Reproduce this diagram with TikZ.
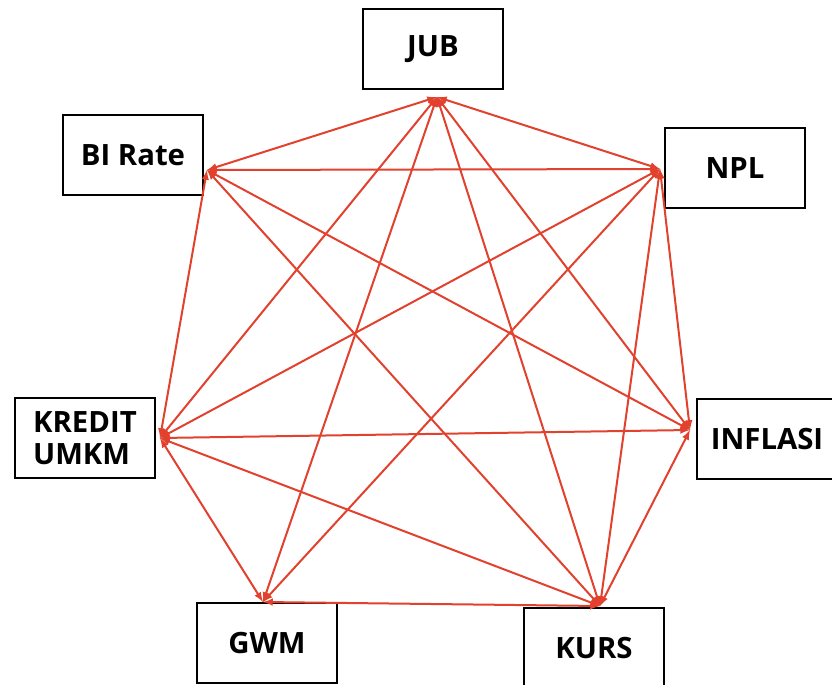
\documentclass[tikz,border=0pt]{standalone}
\usepackage{fontspec}
\setmainfont{Open Sans}
\definecolor{linkred}{RGB}{225,65,45}
\tikzset{
  box/.style={draw, line width=1.5pt, minimum width=105pt, minimum height=60pt, font=\bfseries\fontsize{22}{24}\selectfont},
  link/.style={draw=linkred, line width=1.5pt}
}
\begin{document}
\begin{tikzpicture}[x=0.75pt, y=-0.75pt]
\useasboundingbox (0,0) rectangle (832,685);
\node[box] (JUB) at (433,49) {JUB};
\node[box] (BI) at (133,155) {BI Rate};
\node[box] (NPL) at (735,168) {NPL};
\node[box, align=left] (KREDIT) at (85,438) {KREDIT\\UMKM};
\node[box] (INFLASI) at (767,439) {INFLASI};
\node[box] (GWM) at (267,643) {GWM};
\node[box] (KURS) at (594,648) {KURS};
\coordinate (pJUB) at (437,97);
\coordinate (pBI) at (207,170);
\coordinate (pNPL) at (660,169);
\coordinate (pKREDIT) at (160,438);
\coordinate (pINFLASI) at (690,430);
\coordinate (pGWM) at (263,602);
\coordinate (pKURS) at (600,606);
\draw [link, latex-latex] (pJUB) -- (pBI);
\draw [link, latex-latex] (pJUB) -- (pNPL);
\draw [link, latex-latex] (pJUB) -- (pKREDIT);
\draw [link, latex-latex] (pJUB) -- (pINFLASI);
\draw [link, latex-latex] (pJUB) -- (pGWM);
\draw [link, latex-latex] (pJUB) -- (pKURS);
\draw [link, latex-latex] (pBI) -- (pNPL);
\draw [link, latex-latex] (pBI) -- (pKREDIT);
\draw [link, latex-latex] (pBI) -- (pINFLASI);
\draw [link, latex-latex] (pBI) -- (pKURS);
\draw [link, latex-latex] (pNPL) -- (pKREDIT);
\draw [link, latex-latex] (pNPL) -- (pINFLASI);
\draw [link, latex-latex] (pNPL) -- (pGWM);
\draw [link, latex-latex] (pNPL) -- (pKURS);
\draw [link, latex-latex] (pKREDIT) -- (pINFLASI);
\draw [link, latex-latex] (pKREDIT) -- (pGWM);
\draw [link, latex-latex] (pKREDIT) -- (pKURS);
\draw [link, latex-latex] (pINFLASI) -- (pKURS);
\draw [link, latex-latex] (pGWM) -- (pKURS);
\end{tikzpicture}
\end{document}
